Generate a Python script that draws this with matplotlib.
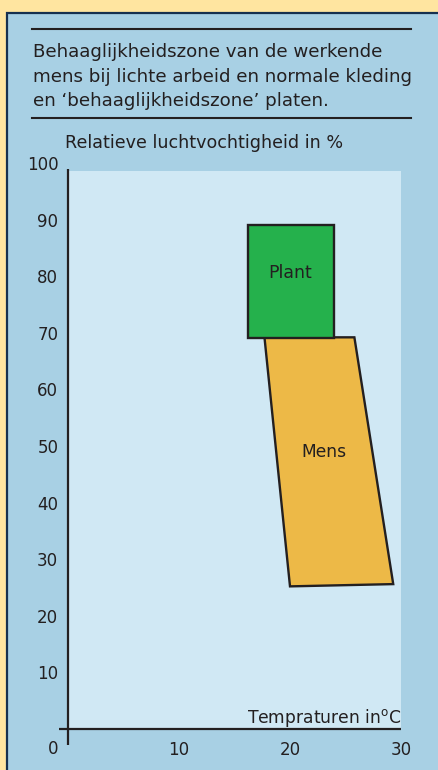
import matplotlib
matplotlib.use("Agg")
import matplotlib.pyplot as plt
from matplotlib.patches import Rectangle, Polygon
from matplotlib.lines import Line2D

# data
temp_ticks = [10, 20, 30]
hum_ticks = [10, 20, 30, 40, 50, 60, 70, 80, 90, 100]
plant_temp = [16.2, 24.0, 24.0, 16.2]
plant_hum = [69, 69, 89, 89]
mens_temp = [17.7, 25.8, 29.3, 20.0]
mens_hum = [69.2, 69.2, 25.6, 25.2]

title_lines = ["Behaaglijkheidszone van de werkende",
               "mens bij lichte arbeid en normale kleding",
               "en \u2018behaaglijkheidszone\u2019 platen."]

W, H = 439, 770
txt = "#231f20"
plt.rcParams['font.family'] = ['DejaVu Sans']

fig = plt.figure(figsize=(W / 100, H / 100), dpi=100, facecolor="#ffe5a0")

def fx(x):
    return x / W

def fy(y):
    return 1 - y / H

# blue panel with dark border on top/left
fig.patches.append(Rectangle((fx(7), fy(790)), fx(460), 777 / H, transform=fig.transFigure,
                             facecolor="#a8d0e4", edgecolor="#16304f", linewidth=1.6,
                             zorder=-10))

# rules round the title
for yy in (29, 118):
    fig.lines.append(Line2D([fx(32), fx(411)], [fy(yy), fy(yy)], transform=fig.transFigure,
                            color="#231f20", linewidth=1.5))
for i, line in enumerate(title_lines):
    fig.text(fx(33), fy(57 + 24.5 * i), line, fontsize=13.15, color=txt,
             va="baseline", ha="left")

# axes: x 0..30 -> 68..401 px, y 0..100 -> 729..163 px
ax = fig.add_axes([fx(68), fy(729), (401 - 68) / W, (729 - 163) / H])
ax.set_xlim(0, 30)
ax.set_ylim(0, 100)
ax.set_facecolor("none")
for s in ax.spines.values():
    s.set_visible(False)

ax.add_patch(Rectangle((0, 0), 30, 98.6, facecolor="#d0e8f4", edgecolor="none", zorder=0))

ax.plot([0, 0], [-2.8, 98.9], color=txt, lw=1.6, clip_on=False, solid_capstyle="butt")
ax.plot([-0.8, 30], [0, 0], color=txt, lw=1.6, clip_on=False, solid_capstyle="butt")

ax.add_patch(Polygon(list(zip(mens_temp, mens_hum)), closed=True, facecolor="#edb947",
                     edgecolor=txt, linewidth=1.7, zorder=2))
ax.add_patch(Polygon(list(zip(plant_temp, plant_hum)), closed=True, facecolor="#25b14c",
                     edgecolor=txt, linewidth=1.7, zorder=3))
ax.text(20.0, 80.5, "Plant", fontsize=12.5, color=txt, ha="center", va="center", zorder=4)
ax.text(23.1, 49, "Mens", fontsize=12.3, color=txt, ha="center", va="center", zorder=4)

ax.set_xticks(temp_ticks)
ax.set_xticklabels([str(t) for t in temp_ticks])
ax.set_yticks(hum_ticks)
ax.set_yticklabels([str(h) for h in hum_ticks])
ax.tick_params(axis="both", length=0, labelsize=12, labelcolor=txt)
ax.tick_params(axis="y", pad=7)
ax.tick_params(axis="x", pad=8.5)
ax.text(-1.35, -3.5, "0", fontsize=12, color=txt, ha="center", va="center")

ax.text(30, 1.06, "Tempraturen in$^{\\mathrm{o}}$C", fontsize=12.3, color=txt,
        ha="right", va="baseline")
fig.text(fx(65), fy(148), "Relatieve luchtvochtigheid in %", fontsize=12.6, color=txt,
         ha="left", va="baseline")

fig.savefig("out.png", dpi=100, facecolor=fig.get_facecolor())
